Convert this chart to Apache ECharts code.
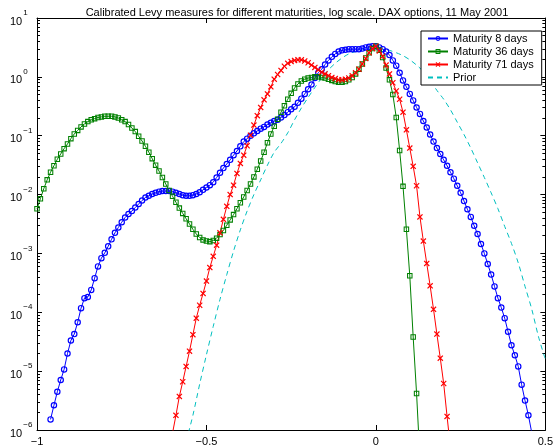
<!DOCTYPE html>
<html><head><meta charset="utf-8">
<script src="https://cdn.jsdelivr.net/npm/echarts@6/dist/echarts.min.js"></script>
<style>html,body{margin:0;padding:0;background:#fff}#c{width:556px;height:448px}</style>
</head><body><div id="c"></div>
<script>
// ---- data (log10 of the Levy density) ----
const titleText = 'Calibrated Levy measures for different maturities, log scale. DAX options, 11 May 2001';
const seriesNames = ['Maturity 8 days', 'Maturity 36 days', 'Maturity 71 days', 'Prior'];
const xTicks = [-1, -0.5, 0, 0.5];
const yTickExponents = [-6, -5, -4, -3, -2, -1, 0, 1];

const blueX0 = -0.96, blueStep = 0.01;
const blueLog10 = [
 -5.82,-5.58,-5.35,-5.15,-4.97,-4.70,-4.48,-4.37,-4.17,-3.93,
 -3.76,-3.74,-3.62,-3.42,-3.22,-3.08,-2.99,-2.88,-2.76,-2.65,
 -2.56,-2.47,-2.39,-2.33,-2.28,-2.22,-2.16,-2.10,-2.05,-2.02,
 -1.99,-1.97,-1.95,-1.94,-1.94,-1.94,-1.95,-1.97,-1.99,-2.01,
 -2.02,-2.02,-2.01,-1.99,-1.96,-1.92,-1.88,-1.84,-1.79,-1.71,
 -1.63,-1.55,-1.48,-1.41,-1.33,-1.26,-1.18,-1.10,-1.05,-1.00,
 -0.96,-0.92,-0.88,-0.85,-0.81,-0.78,-0.75,-0.73,-0.69,-0.65,
 -0.60,-0.55,-0.51,-0.44,-0.37,-0.29,-0.21,-0.13,-0.02,0.07,
 0.13,0.21,0.28,0.34,0.39,0.43,0.45,0.46,0.47,0.47,
 0.47,0.47,0.48,0.50,0.51,0.52,0.52,0.50,0.47,0.43,
 0.37,0.28,0.19,0.07,-0.06,-0.17,-0.29,-0.40,-0.52,-0.63,
 -0.75,-0.86,-0.98,-1.10,-1.21,-1.31,-1.41,-1.51,-1.62,-1.73,
 -1.85,-1.97,-2.11,-2.25,-2.38,-2.53,-2.67,-2.84,-3.00,-3.18,
 -3.36,-3.56,-3.76,-3.92,-4.10,-4.33,-4.56,-4.73,-4.92,-5.23,
 -5.50,-5.75,-6.05
];

const greenX0 = -1.00, greenStep = 0.01;
const greenLog10 = [
 -2.24,-2.07,-1.90,-1.75,-1.62,-1.51,-1.40,-1.31,-1.22,-1.14,
 -1.05,-0.97,-0.91,-0.85,-0.80,-0.76,-0.73,-0.71,-0.69,-0.68,
 -0.67,-0.67,-0.67,-0.68,-0.70,-0.73,-0.76,-0.81,-0.87,-0.93,
 -1.01,-1.09,-1.18,-1.28,-1.39,-1.50,-1.60,-1.71,-1.82,-1.93,
 -2.03,-2.13,-2.23,-2.32,-2.41,-2.50,-2.59,-2.67,-2.73,-2.77,
 -2.79,-2.80,-2.78,-2.74,-2.68,-2.61,-2.52,-2.43,-2.34,-2.24,
 -2.14,-2.04,-1.93,-1.82,-1.70,-1.57,-1.43,-1.28,-1.12,-0.97,
 -0.84,-0.72,-0.60,-0.49,-0.38,-0.28,-0.19,-0.12,-0.07,-0.04,
 -0.02,-0.01,0.00,0.00,-0.01,-0.02,-0.04,-0.06,-0.08,-0.09,
 -0.09,-0.08,-0.05,-0.01,0.05,0.13,0.22,0.32,0.41,0.48,
 0.52,0.45,0.33,0.15,-0.05,-0.30,-0.69,-1.25,-1.86,-2.59,
 -3.38,-4.42,-5.38,-6.50
];

const redX0 = -0.60, redStep = 0.01;
const redLog10 = [
 -6.05,-5.75,-5.43,-5.18,-4.92,-4.66,-4.38,-4.10,-3.88,-3.68,
 -3.47,-3.24,-3.05,-2.86,-2.65,-2.42,-2.20,-2.00,-1.84,-1.64,
 -1.47,-1.33,-1.17,-0.99,-0.82,-0.66,-0.52,-0.39,-0.29,-0.17,
 -0.04,0.04,0.11,0.18,0.23,0.26,0.28,0.29,0.29,0.27,
 0.24,0.20,0.16,0.12,0.08,0.05,0.02,-0.01,-0.03,-0.05,
 -0.05,-0.04,-0.02,0.02,0.07,0.13,0.22,0.31,0.41,0.48,
 0.52,0.44,0.35,0.20,0.05,-0.10,-0.24,-0.38,-0.60,-0.90,
 -1.21,-1.52,-1.85,-2.38,-2.79,-3.17,-3.55,-3.95,-4.37,-4.78,
 -5.21,-5.77,-6.30
];

const priorX0 = -0.56, priorStep = 0.02;
const priorLog10 = [
 -6.20,-5.75,-5.22,-4.72,-4.24,-3.78,-3.36,-2.96,-2.60,-2.28,
 -2.00,-1.75,-1.50,-1.28,-1.13,-0.95,-0.73,-0.53,-0.35,-0.18,
 -0.02,0.12,0.23,0.32,0.39,0.43,0.46,0.48,0.48,0.47,
 0.45,0.41,0.36,0.29,0.20,0.09,-0.06,-0.23,-0.38,-0.56,
 -0.77,-0.98,-1.21,-1.46,-1.71,-1.97,-2.24,-2.54,-2.83,-3.16,
 -3.56,-3.95,-4.42,-4.80
];

// ---- build ----
function toPairs(x0, step, logs) {
  return logs.map((v, i) => [+(x0 + i * step).toFixed(3), Math.pow(10, v)]);
}
const minorMultipliers = [2,3,4,5,6,7,8,9];
const minorTickValues = [];
for (let e = -6; e < 1; e++) minorMultipliers.forEach(m => minorTickValues.push(+(m * Math.pow(10, e)).toPrecision(3)));

const FONT = "'Liberation Sans', Arial, Helvetica, sans-serif";
const ringCircle = 'path://M5,0A5,5 0 1,1 5,10A5,5 0 1,1 5,0Z M5,1.8A3.2,3.2 0 1,0 5,8.2A3.2,3.2 0 1,0 5,1.8Z';
const ringSquare = 'path://M0,0H10V10H0Z M1.9,1.9V8.1H8.1V1.9Z';
const cross = 'path://M0,1.4L1.4,0L5,3.6L8.6,0L10,1.4L6.4,5L10,8.6L8.6,10L5,6.4L1.4,10L0,8.6L3.6,5Z';

const minus = s => String(s).replace('-', '\u2212');
const gridBox = { left: 37, right: 8, top: 18, bottom: 18 };

function logAxis(pos, opts) {
  return Object.assign({
    type: 'log', logBase: 10, min: 1e-6, max: 10, position: pos,
    axisLine: { show: true, onZero: false, lineStyle: { color: '#000', width: 1 } },
    splitLine: { show: false },
    axisLabel: { show: false },
    axisTick: { show: true, inside: true, length: 5, lineStyle: { color: '#000' } }
  }, opts || {});
}
const minorAxisOpts = {
  axisLine: { show: false, onZero: false },
  axisTick: { show: true, inside: true, length: 3, customValues: minorTickValues, lineStyle: { color: '#000' } }
};

const option = {
  animation: false,
  backgroundColor: '#fff',
  title: {
    text: titleText, left: 292, top: 2, textAlign: 'center',
    textStyle: { fontFamily: FONT, fontSize: 11, fontWeight: 'normal', color: '#000' }
  },
  legend: {
    data: seriesNames.slice(0, 3).concat([{ name: seriesNames[3], itemStyle: { opacity: 0 } }]),
    orient: 'vertical', left: 421, top: 31,
    itemWidth: 20, itemHeight: 6, itemGap: 0,
    padding: [1, 8, 1, 6],
    borderColor: '#000', borderWidth: 1, backgroundColor: '#fff',
    textStyle: { fontFamily: FONT, fontSize: 11, color: '#000', lineHeight: 13 }
  },
  grid: gridBox,
  xAxis: [
    {
      type: 'value', min: -1, max: 0.5, interval: 0.5, position: 'bottom',
      axisLine: { show: true, onZero: false, lineStyle: { color: '#000' } },
      splitLine: { show: false },
      axisTick: { show: true, inside: true, length: 5, lineStyle: { color: '#000' } },
      axisLabel: { fontFamily: FONT, fontSize: 11, color: '#000', margin: 6,
        formatter: v => xTicks.includes(v) ? minus(v) : '' }
    },
    {
      type: 'value', min: -1, max: 0.5, interval: 0.5, position: 'top',
      axisLine: { show: true, onZero: false, lineStyle: { color: '#000' } },
      splitLine: { show: false },
      axisTick: { show: true, inside: true, length: 5, lineStyle: { color: '#000' } },
      axisLabel: { show: false }
    }
  ],
  yAxis: [
    logAxis('left', {
      axisLabel: {
        show: true, align: 'left', margin: 27, fontFamily: FONT, color: '#000',
        formatter: v => {
          const e = Math.round(Math.log10(v));
          return yTickExponents.includes(e) ? '{b|10}{s|' + minus(e) + '}' : '';
        },
        rich: {
          b: { fontFamily: FONT, fontSize: 11, color: '#000', verticalAlign: 'bottom', lineHeight: 18 },
          s: { fontFamily: FONT, fontSize: 8, color: '#000', verticalAlign: 'top', lineHeight: 18, padding: [0,0,0,1] }
        }
      }
    }),
    logAxis('right'),
    logAxis('left', minorAxisOpts),
    logAxis('right', minorAxisOpts)
  ],
  series: [
    {
      name: seriesNames[0], type: 'line', data: toPairs(blueX0, blueStep, blueLog10),
      symbol: ringCircle, symbolSize: 6.5, showAllSymbol: true, clip: true,
      itemStyle: { color: '#0000ff' }, lineStyle: { color: '#0000ff', width: 1 }
    },
    {
      name: seriesNames[1], type: 'line', data: toPairs(greenX0, greenStep, greenLog10),
      symbol: ringSquare, symbolSize: 5.5, showAllSymbol: true, clip: true,
      itemStyle: { color: '#008000' }, lineStyle: { color: '#008000', width: 1 }
    },
    {
      name: seriesNames[2], type: 'line', data: toPairs(redX0, redStep, redLog10),
      symbol: cross, symbolSize: 6, showAllSymbol: true, clip: true,
      itemStyle: { color: '#ff0000' }, lineStyle: { color: '#ff0000', width: 1 }
    },
    {
      name: seriesNames[3], type: 'line', data: toPairs(priorX0, priorStep, priorLog10),
      symbol: 'none', showSymbol: false, clip: true, smooth: 0.3,
      itemStyle: { color: '#00bfbf' }, lineStyle: { color: '#00bfbf', width: 1, type: [5, 4] }
    }
  ]
};
const chart = echarts.init(document.getElementById('c'), null, { renderer: 'canvas' });
chart.setOption(option);
</script>
</body></html>
